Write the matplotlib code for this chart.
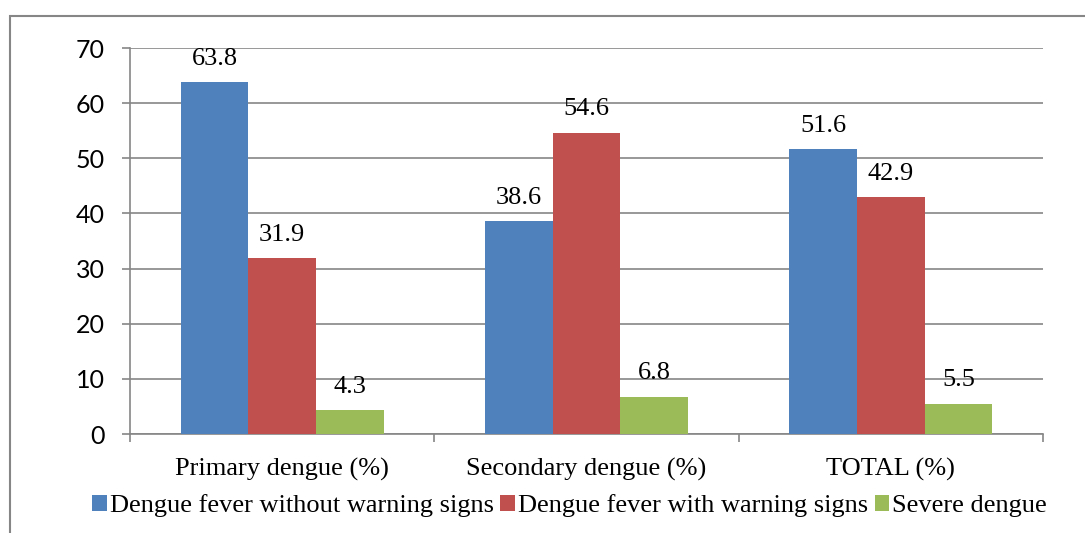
import matplotlib
matplotlib.use("Agg")
import matplotlib.pyplot as plt
import numpy as np
from matplotlib.patches import Rectangle, Patch

categories = ["Primary dengue (%)", "Secondary dengue (%)", "TOTAL (%)"]
series_names = ["Dengue fever without warning signs", "Dengue fever with warning signs", "Severe dengue"]
without_warning = [63.8, 38.6, 51.6]
with_warning = [31.9, 54.6, 42.9]
severe = [4.3, 6.8, 5.5]
yticks = [0, 10, 20, 30, 40, 50, 60, 70]

colors = ["#4F81BD", "#C0504D", "#9BBB59"]
grid_c = "#868686"
serif = "Liberation Serif"
sans = "Lato"
fs = 19

W, H = 1085, 533
fig = plt.figure(figsize=(W / 100, H / 100), dpi=100)
ax = fig.add_axes([130 / W, 1 - 434 / H, (1043 - 130) / W, (434 - 48) / H])

x = np.arange(len(categories))
w = 1 / 4.5
for i, (vals, name) in enumerate(zip([without_warning, with_warning, severe], series_names)):
    bars = ax.bar(x + (i - 1) * w, vals, w, color=colors[i], label=name, zorder=3)
    ax.bar_label(bars, labels=[f"{v:.1f}" for v in vals], padding=9,
                 fontsize=fs, family=serif)

ax.set_xlim(-0.5, 2.5)
ax.set_ylim(0, 70)
ax.set_yticks(yticks)
ax.set_yticklabels([str(t) for t in yticks], family=sans, fontsize=18)
ax.yaxis.grid(True, color=grid_c, linewidth=1.2, zorder=0)
ax.set_axisbelow(True)

ax.set_xticks([-0.5, 0.5, 1.5, 2.5])
ax.set_xticklabels([])
ax.set_xticks(x, minor=True)
ax.set_xticklabels(categories, minor=True, family=serif, fontsize=fs)
ax.tick_params(axis="x", which="minor", length=0, pad=17)
ax.tick_params(axis="x", which="major", length=6, width=1.2, color=grid_c, direction="out")
ax.tick_params(axis="y", length=6, width=1.2, color=grid_c, pad=12)

for s in ["top", "right"]:
    ax.spines[s].set_visible(False)
for s in ["left", "bottom"]:
    ax.spines[s].set_color(grid_c)
    ax.spines[s].set_linewidth(1.2)

handles = [Patch(facecolor=c, edgecolor="none") for c in colors]
fig.legend(handles, series_names, loc="center", bbox_to_anchor=(0.525, 1 - 506 / H),
           ncol=3, frameon=False, prop={"family": serif, "size": fs},
           handlelength=0.55, handleheight=0.55, handletextpad=0.12, columnspacing=0.25,
           borderaxespad=0)

fig.patches.append(Rectangle((10 / W, -0.1), 1.2, 1 - 16 / H + 0.1, transform=fig.transFigure,
                             fill=False, edgecolor=grid_c, linewidth=1.5))

fig.savefig("out.png", dpi=100)
